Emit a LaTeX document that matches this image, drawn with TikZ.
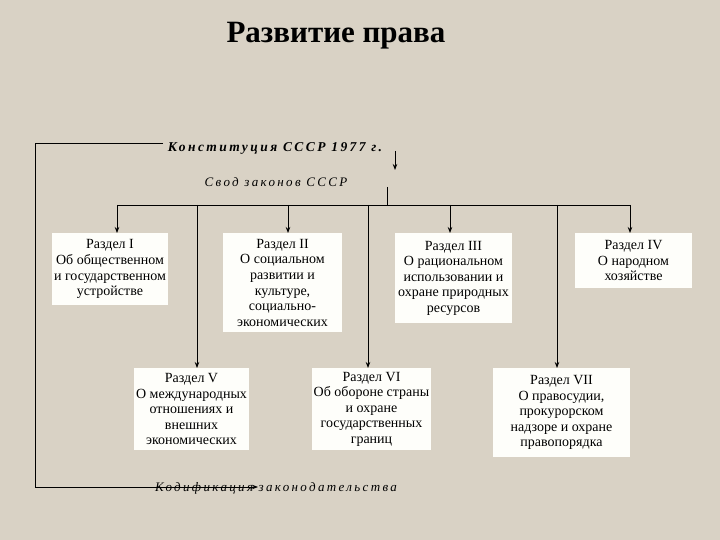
\documentclass[tikz,border=0pt]{standalone}
\usepackage{fontspec}
\setmainfont{Liberation Serif}
\newfontfamily\widefont[LetterSpace=18]{Liberation Serif}
\usetikzlibrary{arrows.meta, positioning}
\definecolor{paper}{HTML}{D9D2C5}
\definecolor{boxfill}{HTML}{FEFEFA}

\begin{document}
\begin{tikzpicture}[x=1pt, y=-1pt,
  sec/.style={rectangle, fill=boxfill, anchor=north, align=center,
              inner xsep=2pt, inner ysep=1.5pt,
              font=\fontsize{14}{15.6}\selectfont},
  lbl/.style={font=\widefont\fontsize{13}{15}\selectfont\itshape},
  lblbold/.style={font=\widefont\fontsize{13.5}{15}\selectfont\bfseries\itshape},
  arr/.style={-{Stealth[length=6pt,width=4.5pt]}, line width=0.8pt, black},
  ln/.style={line width=0.8pt, black}
]
\fill[paper] (0,0) rectangle (720,540);

% Title
\node[font=\bfseries\fontsize{31}{35}\selectfont] (title) at (336,36) {Развитие права};

% Sources
\node[lblbold] (konst) at (275,148) {Конституция СССР 1977 г.};
\node[lbl] (svod) at (276,182) {Свод законов СССР};
\node[lbl] (kodif) at (276,488) {Кодификация законодательства};

% Sections, upper row
\node[sec, minimum width=116pt, minimum height=72pt] (r1) at (110,233)
  {Раздел I\\Об общественном\\и государственном\\устройстве};
\node[sec, minimum width=119pt, minimum height=99pt] (r2) at (282.5,233)
  {Раздел II\\О социальном\\развитии и\\культуре,\\социально-\\экономических};
\node[sec, minimum width=117pt, minimum height=90pt] (r3) at (453.5,233)
  {Раздел III\\О рациональном\\использовании и\\охране природных\\ресурсов};
\node[sec, minimum width=117pt, minimum height=55pt] (r4) at (633.5,233)
  {Раздел IV\\О народном\\хозяйстве};
% Sections, lower row
\node[sec, minimum width=114pt, minimum height=82pt] (r5) at (191.5,368)
  {Раздел V\\О международных\\отношениях и\\внешних\\экономических};
\node[sec, minimum width=117pt, minimum height=82pt] (r6) at (371.5,368)
  {Раздел VI\\Об обороне страны\\и охране\\государственных\\границ};
\node[sec, minimum width=137pt, minimum height=89pt] (r7) at (561.5,368)
  {Раздел VII\\О правосудии,\\прокурорском\\надзоре и охране\\правопорядка};

% Taps on the bus
\coordinate (b1) at (117,205); \coordinate (b2) at (288,205);
\coordinate (b3) at (450,205); \coordinate (b4) at (630,205);
\coordinate (b5) at (197,205); \coordinate (b6) at (368,205);
\coordinate (b7) at (557,205);
\coordinate (s1) at (387,187);
\coordinate (k1) at (395,151); \coordinate (k2) at (395,170);
\coordinate (fr) at (163,143); \coordinate (kd) at (258,487);

% Arrows
\draw[arr] (k1) -- (k2);
\draw[ln] (s1) -- (s1 |- b1);
\draw[ln] (b1) -- (b4);
\draw[arr] (b1) -- (b1 |- r1.north); \draw[arr] (b2) -- (b2 |- r2.north);
\draw[arr] (b3) -- (b3 |- r3.north); \draw[arr] (b4) -- (b4 |- r4.north);
\draw[arr] (b5) -- (b5 |- r5.north); \draw[arr] (b6) -- (b6 |- r6.north);
\draw[arr] (b7) -- (b7 |- r7.north);
% Frame back to codification
\draw[arr] (fr) -- ++(-128,0) |- (kd);
\end{tikzpicture}
\end{document}
